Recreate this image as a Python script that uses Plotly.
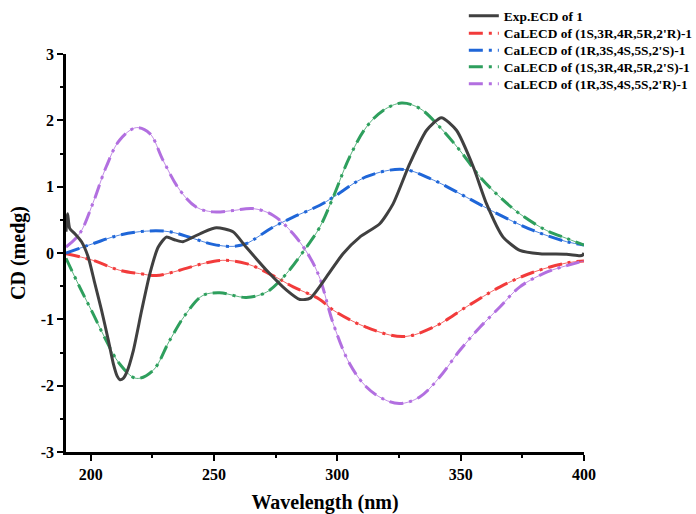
import plotly.graph_objects as go

# ---------------- data ----------------
exp_x = [190, 190.65, 191.5, 193.6, 196.3, 199, 201.7, 204.4, 207.2, 209.2, 210.8, 211.9,
         213.2, 214.6, 217.3, 220.7, 224.0, 227.4, 230.7, 234, 237.4, 241.5, 246, 251,
         257.7, 263, 271.3, 279.4, 284.8, 289, 295.6, 302.3, 309.1, 317.2, 322.6, 329.4,
         336.2, 342.2, 348.3, 355.1, 360.5, 367.2, 374, 382.1, 392.9, 398.4, 399.5, 400]
exp_y = [0.32, 0.59, 0.37, 0.29, 0.17, -0.06, -0.46, -0.86, -1.32, -1.67, -1.86, -1.91,
         -1.89, -1.80, -1.47, -0.86, -0.31, 0.09, 0.24, 0.2, 0.17, 0.24, 0.32, 0.38,
         0.32, 0.09, -0.26, -0.56, -0.70, -0.68, -0.36, -0.01, 0.24, 0.44, 0.74, 1.35,
         1.85, 2.04, 1.85, 1.30, 0.74, 0.24, 0.04, -0.01, -0.02, -0.04, -0.03, 0.0]

red_x = [190, 200.9, 211.7, 219.8, 226.6, 236.1, 245.5, 253.6, 263.1, 273.9, 282.1,
         292.9, 298.3, 311.8, 326.7, 338.9, 352.4, 366, 379.4, 393, 400]
red_y = [-0.01, -0.11, -0.26, -0.31, -0.34, -0.26, -0.16, -0.11, -0.16, -0.34, -0.51,
         -0.70, -0.86, -1.12, -1.26, -1.12, -0.81, -0.51, -0.29, -0.15, -0.12]

blue_x = [190, 200.9, 211.7, 222.6, 232, 241.5, 249.6, 257.7, 263, 273.9, 282.1,
          292.9, 298.3, 311.8, 326.7, 338.9, 352.4, 366, 379.4, 393, 400]
blue_y = [0.0, 0.14, 0.27, 0.33, 0.32, 0.22, 0.13, 0.10, 0.14, 0.39, 0.54,
          0.72, 0.84, 1.15, 1.26, 1.10, 0.84, 0.57, 0.34, 0.17, 0.12]

green_x = [190, 195.5, 200.9, 206.3, 211.7, 218.5, 225.3, 232, 238.8, 245.5, 252.3,
           263.1, 271.3, 279.4, 287.5, 292.9, 298.3, 305, 311.8, 318.6, 326, 333.4,
           341.5, 349.6, 357.8, 366, 374, 384.8, 393, 400]
green_y = [-0.08, -0.51, -0.91, -1.32, -1.67, -1.89, -1.77, -1.32, -0.91, -0.64, -0.60,
           -0.67, -0.59, -0.31, 0.09, 0.39, 0.84, 1.45, 1.90, 2.15, 2.26, 2.18,
           1.90, 1.55, 1.15, 0.84, 0.59, 0.34, 0.22, 0.12]

purple_x = [190, 195.5, 200.9, 206.3, 211.7, 218.5, 224, 229.3, 236.1, 242.9, 249.6,
            257.7, 265.8, 273.9, 282.1, 288.8, 292.9, 298.3, 305, 311.8, 318.6, 325.3,
            333.4, 341.5, 349.6, 357.8, 366, 374, 384.8, 393, 400]
purple_y = [0.09, 0.29, 0.75, 1.30, 1.70, 1.89, 1.80, 1.40, 0.95, 0.69, 0.62,
            0.64, 0.67, 0.57, 0.29, -0.06, -0.38, -1.06, -1.67, -2.02, -2.20, -2.27,
            -2.17, -1.87, -1.47, -1.12, -0.81, -0.51, -0.29, -0.19, -0.12]

names = ["Exp.ECD of 1",
         "CaLECD of (1S,3R,4R,5R,2'R)-1",
         "CaLECD of (1R,3S,4S,5S,2'S)-1",
         "CaLECD of (1S,3R,4R,5R,2'S)-1",
         "CaLECD of (1R,3S,4S,5S,2'R)-1"]

x_ticks = [200, 250, 300, 350, 400]
y_ticks = [-3, -2, -1, 0, 1, 2, 3]

# ---------------- figure ----------------
fig = go.Figure()
font_family = "Liberation Serif, Times New Roman, serif"

legend_ids = ["legend", "legend2", "legend3", "legend4", "legend5"]

calc = [(red_x, red_y, "#F23B3B"),
        (blue_x, blue_y, "#1F66D8"),
        (green_x, green_y, "#2E9F5D"),
        (purple_x, purple_y, "#B26FE0")]

for i, (cx, cy, col) in enumerate(calc):
    # thin connecting line under the dash-dot pattern
    fig.add_trace(go.Scatter(x=cx, y=cy, mode="lines", showlegend=False,
                             line=dict(color=col, width=0.8, shape="spline", smoothing=1),
                             hoverinfo="skip"))
    fig.add_trace(go.Scatter(x=cx, y=cy, mode="lines", name=names[i + 1],
                             legend=legend_ids[i + 1],
                             line=dict(color=col, width=3, shape="spline", smoothing=1,
                                       dash="14px,6px,3px,6px")))

fig.add_trace(go.Scatter(x=exp_x, y=exp_y, mode="lines", name=names[0], legend="legend",
                         line=dict(color="#404040", width=3, shape="spline", smoothing=0.6)))

# one legend row per entry, stacked like the original legend
plot_top_px, plot_bottom_px = 54, 452
row_centers_px = [16, 33.5, 50.5, 67, 84]
legend_layout = {}
for lid, rc in zip(legend_ids, row_centers_px):
    legend_layout[lid] = dict(
        x=0.768, y=(plot_bottom_px - rc) / (plot_bottom_px - plot_top_px),
        xanchor="left", yanchor="middle", bgcolor="rgba(0,0,0,0)",
        font=dict(family=font_family, size=13.4, weight="bold", color="black"))

fig.update_layout(
    width=696, height=514,
    margin=dict(l=66, r=112, t=54, b=62, autoexpand=False),
    paper_bgcolor="white", plot_bgcolor="white",
    font=dict(family=font_family, color="black"),
    showlegend=True,
    **legend_layout,
)

fig.update_xaxes(
    range=[190, 400], tickvals=x_ticks, ticktext=[str(v) for v in x_ticks],
    showgrid=False, zeroline=False,
    showline=True, linecolor="black", linewidth=2.5,
    ticks="outside", ticklen=6, tickwidth=2, tickcolor="black",
    minor=dict(tickvals=[225, 275, 325, 375], ticks="outside", ticklen=3,
               tickwidth=2, tickcolor="black", showgrid=False),
    tickfont=dict(family=font_family, size=16, weight="bold"),
    title=dict(text="Wavelength (nm)", standoff=25,
               font=dict(family=font_family, size=20, weight="bold")),
    automargin=False,
)

fig.update_yaxes(
    range=[-3, 3], tickvals=y_ticks, ticktext=[str(v) for v in y_ticks],
    showgrid=False, zeroline=False,
    showline=True, linecolor="black", linewidth=2.5,
    ticks="outside", ticklen=6, tickwidth=2, tickcolor="black",
    minor=dict(tickvals=[-2.5, -1.5, -0.5, 0.5, 1.5, 2.5], ticks="outside", ticklen=3,
               tickwidth=2, tickcolor="black", showgrid=False),
    tickfont=dict(family=font_family, size=16, weight="bold"),
    title=dict(text="CD (medg)", standoff=10,
               font=dict(family=font_family, size=20, weight="bold")),
    automargin=False,
)

fig.write_html("out.html", config={"displayModeBar": False},
               post_script="document.body.style.margin='0';")
